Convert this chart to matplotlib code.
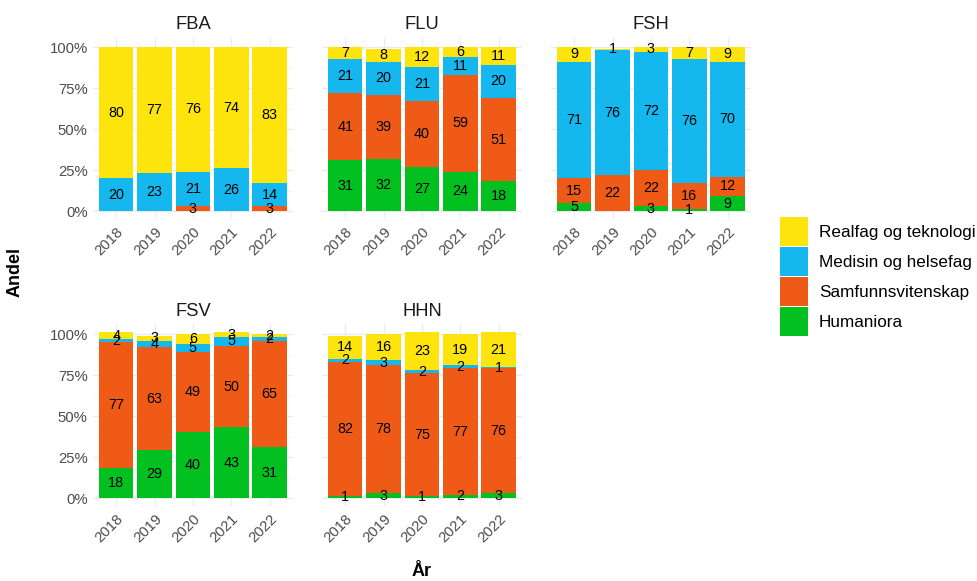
import numpy as np
import matplotlib
matplotlib.use("Agg")
import matplotlib.pyplot as plt
from matplotlib.patches import Patch
from matplotlib.transforms import ScaledTranslation

plt.rcParams['font.family'] = ['Liberation Sans', 'DejaVu Sans']

years = ["2018", "2019", "2020", "2021", "2022"]
units = ["FBA", "FLU", "FSH", "FSV", "HHN"]
fields = ["Humaniora", "Samfunnsvitenskap", "Medisin og helsefag", "Realfag og teknologi"]
colors = ["#03C021", "#EF5A16", "#14B8EE", "#FDE40C"]

# andel (%) per enhet, rekkefolge som fields
fba = [[0, 0, 0, 0, 0], [0, 0, 3, 0, 3], [20, 23, 21, 26, 14], [80, 77, 76, 74, 83]]
flu = [[31, 32, 27, 24, 18], [41, 39, 40, 59, 51], [21, 20, 21, 11, 20], [7, 8, 12, 6, 11]]
fsh = [[5, 0, 3, 1, 9], [15, 22, 22, 16, 12], [71, 76, 72, 76, 70], [9, 1, 3, 7, 9]]
fsv = [[18, 29, 40, 43, 31], [77, 63, 49, 50, 65], [2, 4, 5, 5, 2], [4, 3, 6, 3, 2]]
hhn = [[1, 3, 1, 2, 3], [82, 78, 75, 77, 76], [2, 3, 2, 2, 1], [14, 16, 23, 19, 21]]
data = [fba, flu, fsh, fsv, hhn]

W, H = 977, 581
fig = plt.figure(figsize=(W / 100, H / 100), dpi=100)

lefts = [93.2, 322.2, 551.2]
pw = 199.5
tops = [37.1, 324.1]
ph = 182.2

ymax = max(np.sum(d, axis=0).max() for d in data)
ylo, yhi = -0.05 * ymax, ymax * 1.05

# small nudge so the rotated year labels sit like the original
shift = ScaledTranslation(0.05, -0.04, fig.dpi_scale_trans)

x = np.arange(1, 6)
for i, (name, d) in enumerate(zip(units, data)):
    r, c = divmod(i, 3)
    ax = fig.add_axes([lefts[c] / W, 1 - (tops[r] + ph) / H, pw / W, ph / H])
    bottom = np.zeros(5)
    for vals, col in zip(d, colors):
        vals = np.array(vals, dtype=float)
        ax.bar(x, vals, width=0.9, bottom=bottom, color=col, zorder=2)
        for xi, v, b in zip(x, vals, bottom):
            if v > 0:
                ax.text(xi, b + v / 2, f"{int(v)}", ha="center", va="center",
                        fontsize=10.4, color="black", zorder=3)
        bottom += vals
    ax.set_xlim(0.4, 5.6)
    ax.set_ylim(ylo, yhi)
    ax.set_xticks(x)
    ax.set_xticklabels(years, rotation=45, ha="right", va="top",
                       rotation_mode="anchor", fontsize=10.7, color="#4D4D4D")
    for lbl in ax.get_xticklabels():
        lbl.set_transform(lbl.get_transform() + shift)
    ax.set_yticks([0, 25, 50, 75, 100])
    ax.set_yticks([12.5, 37.5, 62.5, 87.5], minor=True)
    if c == 0:
        ax.set_yticklabels(["0%", "25%", "50%", "75%", "100%"], fontsize=10.7, color="#4D4D4D")
    else:
        ax.set_yticklabels([])
    ax.tick_params(length=0, which="both", pad=4)
    ax.grid(True, which="major", color="#EBEBEB", lw=1.0, zorder=0)
    ax.grid(True, which="minor", axis="y", color="#F2F2F2", lw=0.6, zorder=0)
    for s in ax.spines.values():
        s.set_visible(False)
    ax.set_title(name, fontsize=13.2, color="#1A1A1A", pad=6)

fig.text(15 / W, 1 - 272 / H, "Andel", rotation=90, ha="center", va="center",
         fontsize=13, fontweight="bold")
fig.text(422 / W, 1 - 572 / H, "År", ha="center", va="center",
         fontsize=13, fontweight="bold")

handles = [Patch(facecolor=col, edgecolor="none") for col in colors[::-1]]
fig.legend(handles, fields[::-1], loc="center left", bbox_to_anchor=(780 / W, 1 - 276.5 / H),
           frameon=False, fontsize=12.3, handlelength=1.64, handleheight=2.24,
           handletextpad=0.64, labelspacing=0.06, borderpad=0, borderaxespad=0)

fig.savefig("out.png", dpi=100)
